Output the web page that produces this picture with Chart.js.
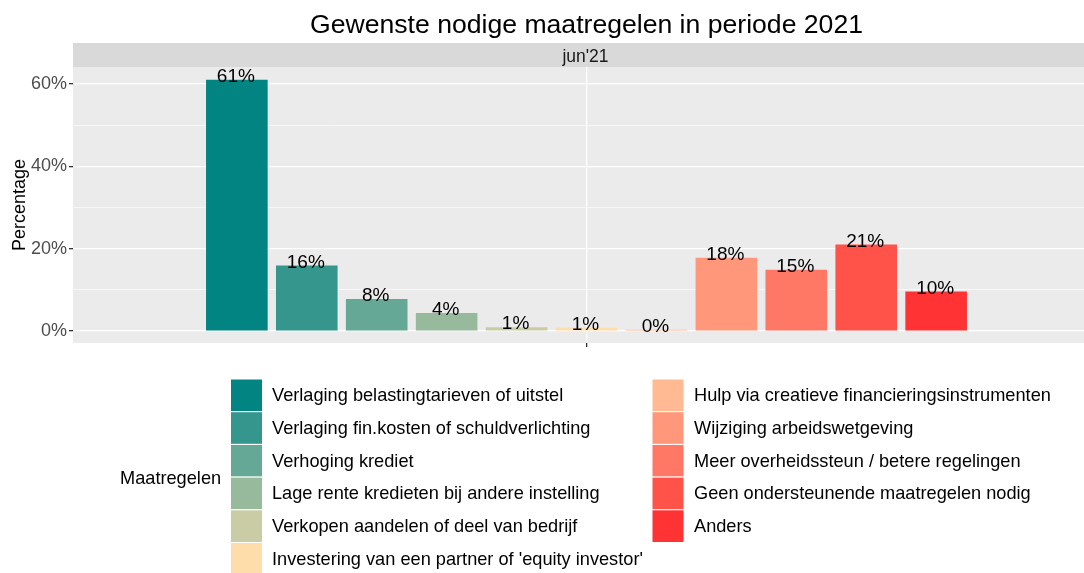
<!DOCTYPE html>
<html><head><meta charset="utf-8">
<script src="https://cdn.jsdelivr.net/npm/chart.js@4"></script>
<style>
html,body{margin:0;padding:0;background:#fff;overflow:hidden;width:1084px;height:573px}
#wrap{position:absolute;left:0;top:0;width:1100px;height:573px}
</style>
</head><body><div id="wrap"><canvas id="c" width="1100" height="573"></canvas></div>
<script>
const chartTitle = "Gewenste nodige maatregelen in periode 2021";
const period = ["jun'21"];
const maatregelen = [
  "Verlaging belastingtarieven of uitstel",
  "Verlaging fin.kosten of schuldverlichting",
  "Verhoging krediet",
  "Lage rente kredieten bij andere instelling",
  "Verkopen aandelen of deel van bedrijf",
  "Investering van een partner of 'equity investor'",
  "Hulp via creatieve financieringsinstrumenten",
  "Wijziging arbeidswetgeving",
  "Meer overheidssteun / betere regelingen",
  "Geen ondersteunende maatregelen nodig",
  "Anders"
];
const percentages = [61.0, 15.9, 7.8, 4.4, 0.9, 0.85, 0.3, 17.8, 14.9, 21.0, 9.6];
const palette = ["#028482","#35968E","#65A895","#97BA9D","#CACCA6","#FFDDAB","#FFBA93","#FF977B","#FF7765","#FF5349","#FF3333"];
const yTicks = [0,10,20,30,40,50,60];
const yLabelTicks = [0,20,40,60];
const legendTitle = "Maatregelen";
const yTitle = "Percentage";

const FONT = "'Liberation Sans', Arial, Helvetica, sans-serif";
Chart.defaults.font.family = FONT;

const decor = {
  id: 'decor',
  beforeDraw(chart) {
    const {ctx, chartArea: a} = chart;
    ctx.save();
    ctx.fillStyle = '#fff'; ctx.fillRect(0, 0, chart.width, chart.height);
    ctx.fillStyle = '#EBEBEB'; ctx.fillRect(a.left, a.top, a.right - a.left, a.bottom - a.top);
    ctx.fillStyle = '#D9D9D9'; ctx.fillRect(a.left, a.top - 24, a.right - a.left, 24);
    ctx.fillStyle = '#1A1A1A'; ctx.font = `17.5px ${FONT}`;
    ctx.textAlign = 'center'; ctx.textBaseline = 'alphabetic';
    ctx.fillText(period[0], (a.left + a.right) / 2 - 1, a.top - 5.5);
    ctx.fillStyle = '#000'; ctx.font = `26.6px ${FONT}`;
    ctx.fillText(chartTitle, (a.left + a.right) / 2, 33);
    ctx.translate(25, (a.top + a.bottom) / 2);
    ctx.rotate(-Math.PI / 2);
    ctx.font = `18px ${FONT}`;
    ctx.fillText(yTitle, 0, 0);
    ctx.restore();
  },
  afterDatasetsDraw(chart) {
    const {ctx} = chart;
    ctx.save();
    ctx.fillStyle = '#000'; ctx.font = `19px ${FONT}`;
    ctx.textAlign = 'center'; ctx.textBaseline = 'alphabetic';
    chart.data.datasets.forEach((ds, i) => {
      const el = chart.getDatasetMeta(i).data[0];
      ctx.fillText(Math.round(ds.data[0]) + '%', el.x - 1, el.y + 2);
    });
    ctx.restore();
  },
  afterDraw(chart) {
    const {ctx} = chart;
    ctx.save();
    const top = 379, pitch = 32.7, kw = 32;
    const cols = [{kx: 230.5, tx: 272, items: [0,1,2,3,4,5]}, {kx: 652, tx: 694, items: [6,7,8,9,10]}];
    ctx.font = `18.2px ${FONT}`; ctx.textBaseline = 'middle'; ctx.textAlign = 'left';
    cols.forEach(c => {
      c.items.forEach((idx, r) => {
        const y = top + r * pitch;
        ctx.fillStyle = palette[idx];
        ctx.fillRect(c.kx, y, kw, pitch);
        ctx.strokeStyle = '#fff'; ctx.lineWidth = 1;
        ctx.strokeRect(c.kx, y, kw, pitch);
        ctx.fillStyle = '#000';
        ctx.fillText(maatregelen[idx], c.tx, y + pitch / 2 + 1);
      });
    });
    ctx.fillStyle = '#000';
    ctx.fillText(legendTitle, 120, 479);
    ctx.restore();
  }
};

new Chart(document.getElementById('c'), {
  type: 'bar',
  data: {
    labels: period,
    datasets: maatregelen.map((m, i) => ({
      label: m, data: [percentages[i]], backgroundColor: palette[i], borderWidth: 0,
      categoryPercentage: 0.749, barPercentage: 0.881
    }))
  },
  options: {
    responsive: false, animation: false, devicePixelRatio: 1,
    layout: {padding: {left: 0, right: 0, top: 67, bottom: 226}},
    plugins: {legend: {display: false}, tooltip: {enabled: false}, title: {display: false}},
    events: [],
    scales: {
      x: {
        grid: {offset: false, color: '#fff', lineWidth: 1.3, tickLength: 4, tickColor: '#333', drawTicks: true},
        ticks: {display: false},
        border: {display: false},
        afterFit(s) { s.height = 4; }
      },
      y: {
        min: -2.9, max: 64.1,
        afterBuildTicks(s) { s.ticks = yTicks.map(v => ({value: v})); },
        grid: {
          color: '#fff',
          lineWidth: c => (c.tick && c.tick.value % 20 === 0) ? 1.3 : 0.6,
          tickLength: 4,
          tickColor: c => (c.tick && c.tick.value % 20 === 0) ? '#333' : 'rgba(0,0,0,0)'
        },
        ticks: {padding: 2, color: '#4D4D4D', font: {size: 18},
          callback: v => yLabelTicks.includes(v) ? v + '%' : ''},
        border: {display: false},
        afterFit(s) { s.width = 73; }
      }
    }
  },
  plugins: [decor]
});
</script>
</body></html>
